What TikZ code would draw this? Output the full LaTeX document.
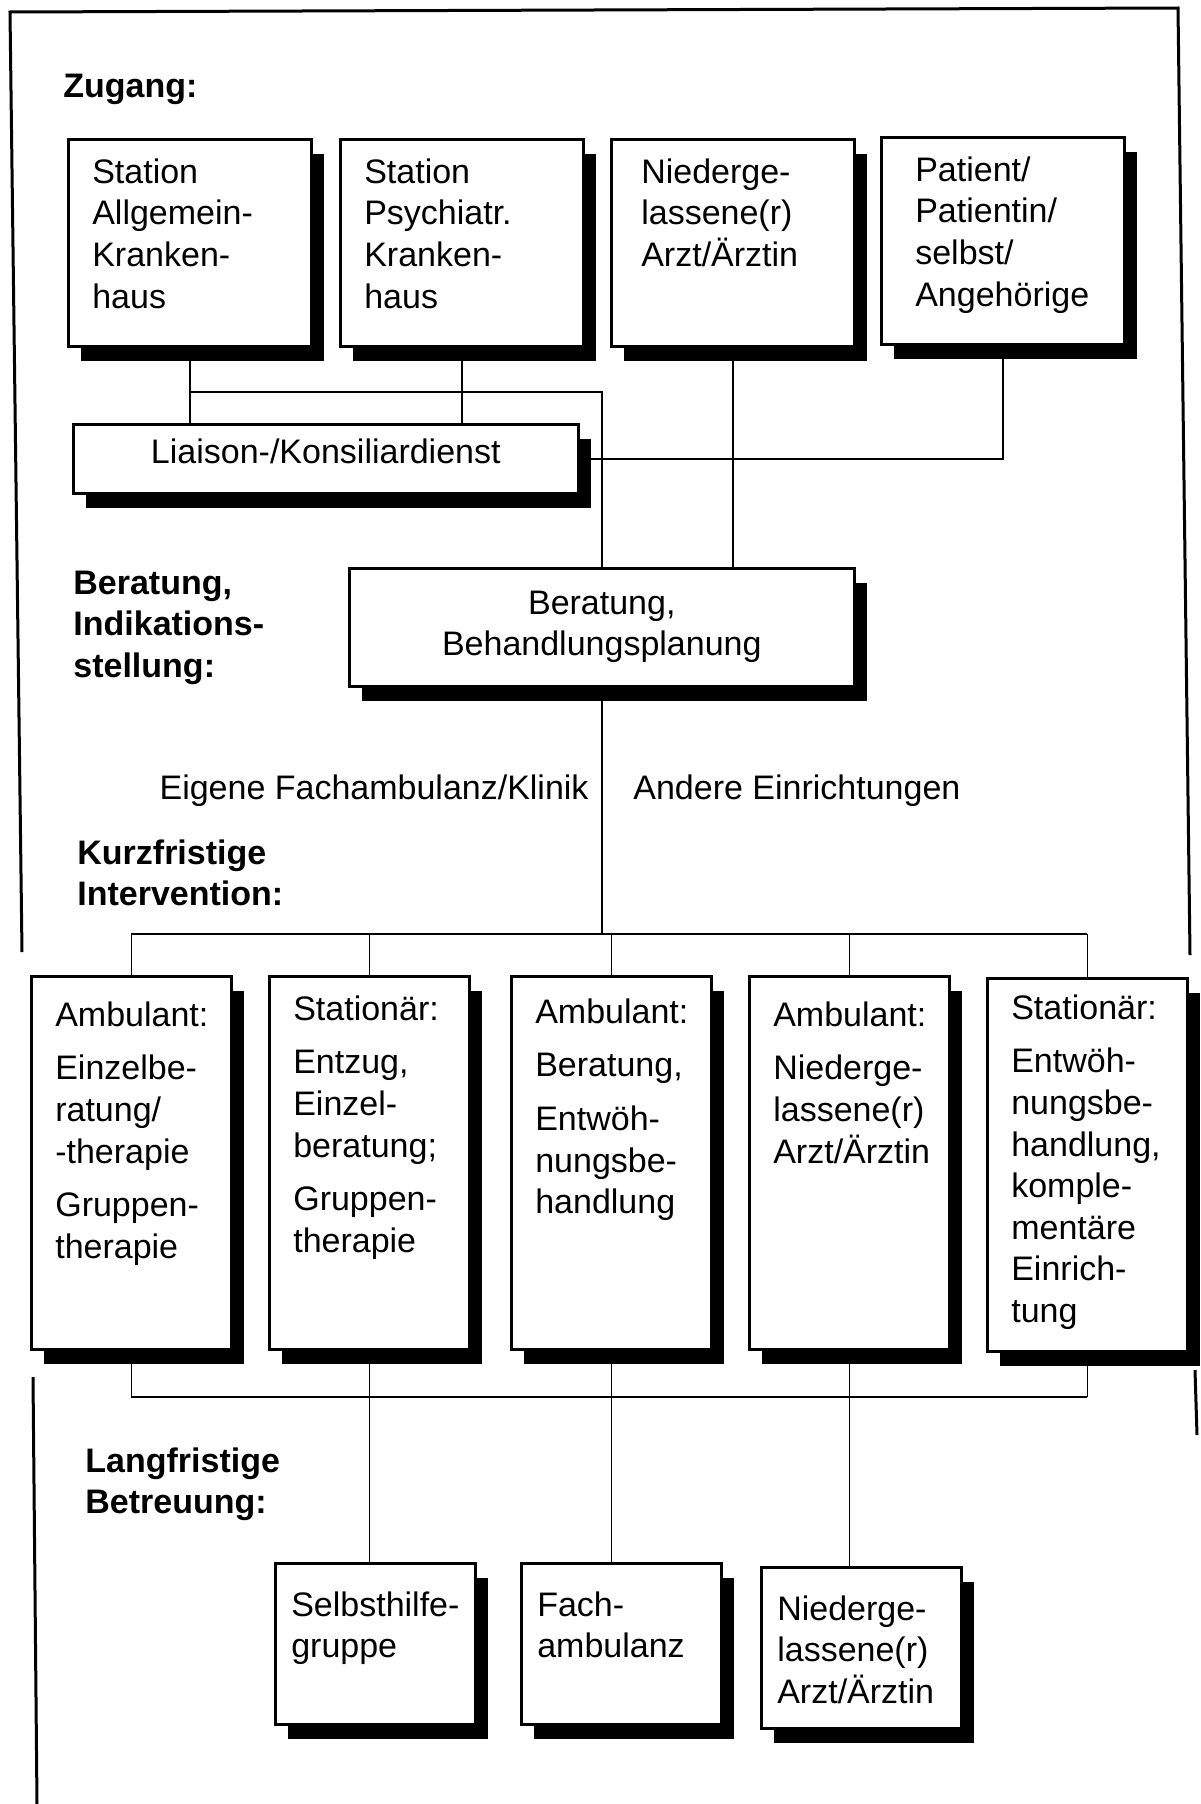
\documentclass[tikz,border=0pt]{standalone}
\usepackage{fontspec}
\setmainfont{Liberation Sans}
\usetikzlibrary{shadows}
\hyphenpenalty=10000
\exhyphenpenalty=10000
\newcommand{\diagfont}{\fontsize{17}{20.8}\selectfont}

\tikzset{
  shadowbox/.style={draw, line width=1.3pt, fill=white, anchor=north west, inner ysep=0pt,
    drop shadow={shadow xshift=6.5pt, shadow yshift=-7.5pt, fill=black, opacity=1}},
  accessbox/.style={shadowbox, align=left, inner xsep=12pt, text width=97.5pt, text height=22pt, text depth=81.5pt},
  offerbox/.style={shadowbox, align=left, inner xsep=12pt, text width=76pt, text height=25pt, text depth=161.5pt},
  carebox/.style={shadowbox, align=left, inner xsep=8pt, text width=84pt, text height=26.5pt, text depth=54pt},
  widebox/.style={shadowbox, align=center, inner xsep=0pt, text width=252.5pt},
  heading/.style={font=\diagfont\bfseries, anchor=base west, align=left, inner sep=0pt, text width=150pt},
  route/.style={inner sep=0pt},
  link/.style={line width=0.8pt},
  frame/.style={line width=1.5pt},
}

\begin{document}
\begin{tikzpicture}[x=0.5pt, y=-0.5pt, every node/.style={font=\diagfont}]
    \useasboundingbox (0,0) rectangle (1200,1804);

    % Frame
    \draw[frame] (22,952) -- (10,12) -- (1178,8) -- (1190,955);
    \draw[frame] (33,1377) -- (37,1804);
    \draw[frame] (1195,1370) -- (1197,1435);

    % Zugang
    \node[heading] (zugang) at (63,97) {Zugang:};
    \node[accessbox] (za) at (67,138) {Station\\Allgemein-\\Kranken-\\haus};
    \node[accessbox] (zp) at (339,138) {Station\\Psychiatr.\\Kranken-\\haus};
    \node[accessbox, inner xsep=15pt, text width=91.5pt] (zn) at (610,138) {Niederge-\\lassene(r)\\Arzt/Ärztin};
    \node[accessbox, inner xsep=17pt, text width=87.5pt] (zs) at (880,136) {Patient/\\Patientin/\\selbst/\\Angehörige};

    \node[widebox, text height=19.5pt, text depth=15pt] (lk) at (72,423) {Liaison-/Konsiliardienst};

    % Beratung, Indikationsstellung
    \node[heading] (beratung) at (73,594) {Beratung,\\Indikations-\\stellung:};
    \node[widebox, text height=23pt, text depth=36pt] (bb) at (348,567) {Beratung,\\Behandlungsplanung};

    \node[route, anchor=base east] (eigene) at (589,799) {Eigene Fachambulanz/Klinik};
    \node[route, anchor=base west] (andere) at (633,799) {Andere Einrichtungen};

    % Kurzfristige Intervention
    \node[heading] (kurz) at (77,864) {Kurzfristige\\Intervention:};
    \node[offerbox] (ab) at (30,975) {Ambulant:\\[6pt]Einzelbe-\\ratung/\\-therapie\\[6pt]Gruppen-\\therapie};
    \node[offerbox, text height=22pt, text depth=164.5pt] (se) at (268,975) {Stationär:\\[6pt]Entzug,\\Einzel-\\beratung;\\[6pt]Gruppen-\\therapie};
    \node[offerbox, text height=23.5pt, text depth=163pt] (ae) at (510,975) {Ambulant:\\[6pt]Beratung,\\[6pt]Entwöh-\\nungsbe-\\handlung};
    \node[offerbox] (an) at (748,975) {Ambulant:\\[6pt]Niederge-\\lassene(r)\\Arzt/Ärztin};
    \node[offerbox, text height=20.5pt, text depth=166pt] (sk) at (986,977) {Stationär:\\[6pt]Entwöh-\\nungsbe-\\handlung,\\komple-\\mentäre\\Einrich-\\tung};

    % Langfristige Betreuung
    \node[heading] (lang) at (85,1472) {Langfristige\\Betreuung:};
    \node[carebox] (sh) at (274,1562) {Selbsthilfe-\\gruppe};
    \node[carebox] (fa) at (520,1562) {Fach-\\ambulanz};
    \node[carebox] (na) at (760,1566) {Niederge-\\lassene(r)\\Arzt/Ärztin};

    % Connectors
    \coordinate (jzug) at (0,392);
    \coordinate (jkurz) at (0,934);
    \coordinate (jlang) at (0,1397);

    \draw[link] (za.south) -- (za.south |- lk.north);
    \draw[link] (zp.south) -- (zp.south |- lk.north);
    \draw[link] (za.south |- jzug) -- (bb.north |- jzug) -- (bb.north);
    \draw[link] (zn.south) -- (zn.south |- bb.north);
    \draw[link] (zs.south) |- (lk.east);

    \draw[link] (bb.south) -- (bb.south |- jkurz);
    \draw[link] (ab.north |- jkurz) -- (sk.north |- jkurz);
    \foreach \m in {ab,se,ae,an,sk}
        \draw[link] (\m.north) -- (\m.north |- jkurz);

    \draw[link] (ab.south |- jlang) -- (sk.south |- jlang);
    \draw[link] (ab.south) -- (ab.south |- jlang);
    \draw[link] (sk.south) -- (sk.south |- jlang);
    \draw[link] (se.south) -- (se.south |- sh.north);
    \draw[link] (ae.south) -- (ae.south |- fa.north);
    \draw[link] (an.south) -- (an.south |- na.north);
\end{tikzpicture}
\end{document}
